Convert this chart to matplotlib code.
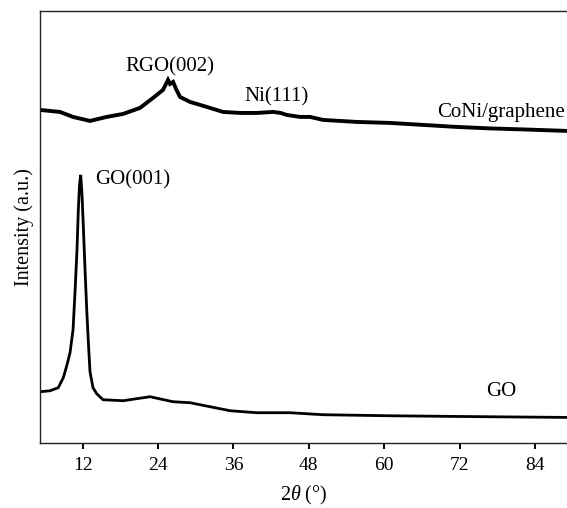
import matplotlib
matplotlib.use("Agg")
import matplotlib.pyplot as plt

plt.rcParams["font.family"] = "Liberation Serif"
plt.rcParams["mathtext.fontset"] = "custom"
plt.rcParams["mathtext.rm"] = "Liberation Serif"
plt.rcParams["mathtext.it"] = "Liberation Serif:italic"

# CoNi/graphene pattern (2theta, intensity a.u.)
coni_tt = [5.20, 8.38, 10.46, 13.16, 15.82, 18.42, 21.12, 23.19, 24.78, 25.58,
           25.90, 26.39, 26.86, 27.49, 29.09, 31.75, 34.34, 37.05, 39.71, 42.30,
           43.50, 44.48, 46.60, 48.20, 50.26, 55.63, 60.93, 66.19, 71.55, 76.86,
           82.11, 89.10]
coni_int = [333, 331, 326, 322, 326, 329, 335, 345, 353, 363,
            359, 361, 354, 346, 341, 336, 331, 330, 330, 331,
            330, 328, 326, 326, 323, 321, 320, 318, 316, 314.5,
            313.5, 312]

# GO pattern
go_tt = [5.20, 6.80, 8.10, 8.91, 9.50, 9.98, 10.46, 10.77, 11.09, 11.30,
         11.49, 11.68, 11.89, 12.10, 12.37, 12.64, 12.92, 13.16, 13.64, 14.23,
         15.23, 18.42, 22.72, 26.38, 29.09, 32.27, 35.46, 39.71, 45.01, 50.26,
         60.41, 70.97, 81.64, 89.10]
go_int = [51, 52, 55, 65, 78, 90, 113, 150, 193, 233,
          258, 268, 248, 216, 173, 133, 98, 71, 55, 49,
          43, 42, 46, 41, 40, 36, 32, 30, 30, 28,
          27, 26.3, 25.7, 25.3]

xticks = [12, 24, 36, 48, 60, 72, 84]

# peak labels: (text, x, y, ha)
labels = [("RGO(002)", 25.9, 371, "center"),
          ("Ni(111)", 42.9, 341, "center"),
          ("CoNi/graphene", 88.8, 326, "right"),
          ("GO(001)", 19.9, 258, "center"),
          ("GO", 78.7, 47, "center")]

fig = plt.figure(figsize=(5.67, 5.08), dpi=100)
ax = fig.add_axes([40 / 567, 65.3 / 508, 527 / 567, 431.7 / 508])

ax.plot(coni_tt, coni_int, color="black", lw=2.8, solid_joinstyle="miter")
ax.plot(go_tt, go_int, color="black", lw=2.0, solid_joinstyle="miter")

for txt, x, y, ha in labels:
    ax.text(x, y, txt, ha=ha, va="baseline", fontsize=15)

ax.set_xlim(5.2, 89.1)
ax.set_ylim(0, 432)
ax.set_xticks(xticks)
ax.set_yticks([])
ax.tick_params(axis="x", direction="out", length=4.5, width=1.4, labelsize=14, pad=6)

ax.spines["right"].set_visible(False)
for s in ["left", "top", "bottom"]:
    ax.spines[s].set_linewidth(1.0)
    ax.spines[s].set_color("#222222")

ax.set_xlabel(r"$\mathit{2\theta}$ (°)", fontsize=14.5, labelpad=7)
ax.set_ylabel("Intensity (a.u.)", fontsize=14.5, labelpad=4)

plt.savefig("out.png", dpi=100)
